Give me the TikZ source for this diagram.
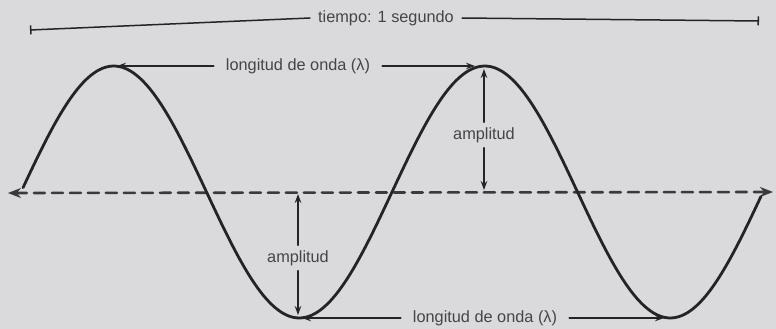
\documentclass[tikz,border=0pt]{standalone}
\usepackage{fontspec}
\setmainfont{Liberation Sans}
\usetikzlibrary{arrows.meta}
\definecolor{paper}{RGB}{218,218,220}
\definecolor{ink}{RGB}{36,36,38}
\tikzset{
  lbl/.style={font=\fontsize{16.3}{19}\selectfont,text=ink!85,inner ysep=5pt,inner xsep=0pt},
  guide/.style={ink,line width=1.5pt},
}
\begin{document}
\begin{tikzpicture}[x=1pt,y=-1pt,>={Stealth[length=9pt,width=6.5pt]},line cap=round,line join=round]
  \fill[paper] (0,0) rectangle (776,329);
  \useasboundingbox (0,0) rectangle (776,329);
  \coordinate (crestA) at (114,66);
  \coordinate (crestB) at (484,66);
  \coordinate (troughA) at (298,318);
  \coordinate (troughB) at (670,318);
  \coordinate (axL) at (8,193);
  \coordinate (axR) at (773,192);
  \coordinate (axA) at (298,192);
  \coordinate (axB) at (484,192);
  \coordinate (tL) at (30,30);
  \coordinate (tR) at (759,21);
  \draw[ink!90,line width=2.6pt,dash pattern=on 11pt off 7pt,
    {Stealth[length=13pt,width=10pt]}-{Stealth[length=13pt,width=10pt]}] (axL)--(axR);
  \draw[ink,line width=2.8pt] plot[domain=2:718,samples=121,smooth]
    ({21+\x*1.0306},{192-126*sin(\x)});
  \node[lbl,inner xsep=8pt] (tiempo) at (386,18) {tiempo: 1 segundo};
  \draw[guide,{Bar[width=9pt]}-] (tL)--(tiempo.west);
  \draw[guide,-{Bar[width=9pt]}] (tiempo.east)--(tR);
  \node[lbl,inner xsep=12pt] (lamTop) at (298,66) {longitud de onda (λ)};
  \draw[guide,->,shorten >=3pt] (lamTop.west)--(crestA);
  \draw[guide,->,shorten >=9pt] (lamTop.east)--(crestB);
  \node[lbl,inner xsep=12pt] (lamBot) at (485,318) {longitud de onda (λ)};
  \draw[guide,->,shorten >=4pt] (lamBot.west)--(troughA);
  \draw[guide,->,shorten >=6pt] (lamBot.east)--(troughB);
  \node[lbl] (ampB) at (484,135) {amplitud};
  \draw[guide,->,shorten >=3pt] (ampB.north)--(crestB);
  \draw[guide,->,shorten >=2pt] (ampB.south)--(axB);
  \node[lbl] (ampA) at (298,258) {amplitud};
  \draw[guide,->,shorten >=2pt] (ampA.north)--(axA);
  \draw[guide,->,shorten >=3pt] (ampA.south)--(troughA);
\end{tikzpicture}
\end{document}
